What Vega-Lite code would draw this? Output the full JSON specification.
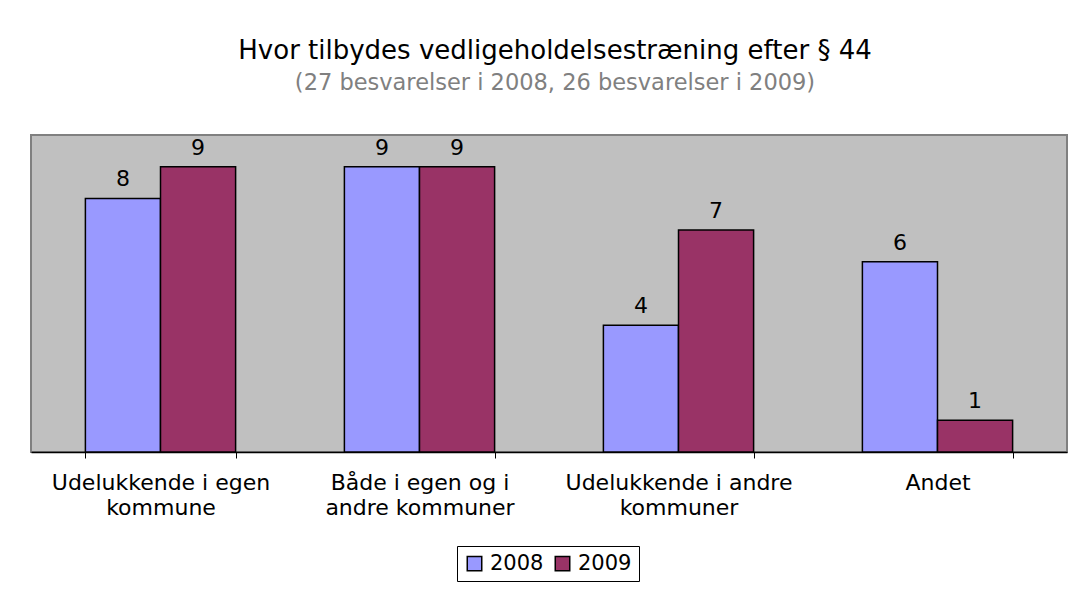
{
  "$schema": "https://vega.github.io/schema/vega-lite/v6.json",
  "autosize": {"type": "none"},
  "width": 1036,
  "height": 317,
  "padding": {"left": 31, "top": 135, "right": 8, "bottom": 143},
  "background": "white",
  "title": {
    "text": "Hvor tilbydes vedligeholdelsestræning efter § 44",
    "subtitle": "(27 besvarelser i 2008, 26 besvarelser i 2009)",
    "anchor": "middle",
    "dx": 6,
    "offset": 41,
    "font": "DejaVu Sans",
    "fontSize": 26,
    "fontWeight": "normal",
    "color": "#000000",
    "subtitleFont": "DejaVu Sans",
    "subtitleFontSize": 22.5,
    "subtitleColor": "#808080",
    "subtitlePadding": 8
  },
  "data": {
    "values": [
      {"sted": "Udelukkende i egen kommune", "aar": "2008", "antal": 8},
      {"sted": "Udelukkende i egen kommune", "aar": "2009", "antal": 9},
      {"sted": "Både i egen og i andre kommuner", "aar": "2008", "antal": 9},
      {"sted": "Både i egen og i andre kommuner", "aar": "2009", "antal": 9},
      {"sted": "Udelukkende i andre kommuner", "aar": "2008", "antal": 4},
      {"sted": "Udelukkende i andre kommuner", "aar": "2009", "antal": 7},
      {"sted": "Andet", "aar": "2008", "antal": 6},
      {"sted": "Andet", "aar": "2009", "antal": 1}
    ]
  },
  "encoding": {
    "x": {
      "field": "sted",
      "type": "nominal",
      "sort": null,
      "scale": {"paddingInner": 0.42, "paddingOuter": 0.21},
      "axis": {
        "title": null,
        "labelAngle": 0,
        "labelFont": "DejaVu Sans",
        "labelFontSize": 22,
        "labelColor": "#000000",
        "labelPadding": 14,
        "labelLineHeight": 25,
        "labelExpr": "datum.value == 'Udelukkende i egen kommune' ? ['Udelukkende i egen', 'kommune'] : datum.value == 'Både i egen og i andre kommuner' ? ['Både i egen og i', 'andre kommuner'] : datum.value == 'Udelukkende i andre kommuner' ? ['Udelukkende i andre', 'kommuner'] : datum.value",
        "tickBand": "extent",
        "tickSize": 6,
        "tickColor": "#000000",
        "domainColor": "#000000",
        "domainWidth": 1.5,
        "labelLimit": 400
      }
    },
    "xOffset": {"field": "aar", "type": "nominal", "scale": {"paddingInner": 0, "paddingOuter": 0}},
    "y": {
      "field": "antal",
      "type": "quantitative",
      "scale": {"domain": [0, 10], "nice": false},
      "axis": null
    }
  },
  "layer": [
    {
      "mark": {"type": "bar", "stroke": "#000000", "strokeWidth": 1.5},
      "encoding": {
        "color": {
          "field": "aar",
          "type": "nominal",
          "scale": {"domain": ["2008", "2009"], "range": ["#9999FF", "#993366"]},
          "legend": {
            "title": null,
            "orient": "none",
            "legendX": 426,
            "legendY": 411,
            "direction": "horizontal",
            "symbolType": "square",
            "symbolSize": 210,
            "symbolStrokeColor": "#000000",
            "symbolStrokeWidth": 1.5,
            "labelFont": "DejaVu Sans",
            "labelFontSize": 21,
            "labelColor": "#000000",
            "labelOffset": 5,
            "columnPadding": 8,
            "padding": 7,
            "strokeColor": "#000000",
            "fillColor": "#FFFFFF"
          }
        }
      }
    },
    {
      "mark": {"type": "text", "font": "DejaVu Sans", "fontSize": 22, "color": "#000000", "baseline": "alphabetic", "dy": -12},
      "encoding": {"text": {"field": "antal", "type": "quantitative"}}
    }
  ],
  "config": {
    "view": {"fill": "#C0C0C0", "stroke": "#808080", "strokeWidth": 2},
    "axis": {"grid": false}
  }
}
